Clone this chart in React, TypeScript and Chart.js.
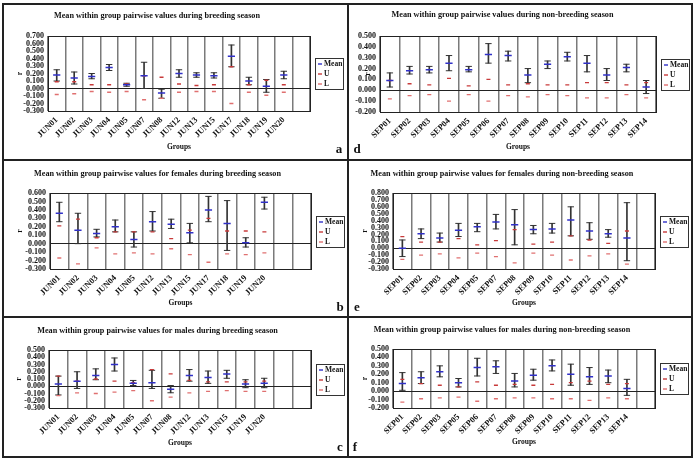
import React, { useEffect, useRef } from 'react';
import { Chart, registerables } from 'chart.js';
Chart.register(...registerables);

// ---------- Panel a: breeding season ----------
const aLabels = ['JUN01', 'JUN02', 'JUN03', 'JUN04', 'JUN05', 'JUN07', 'JUN08', 'JUN12', 'JUN13', 'JUN15', 'JUN17', 'JUN18', 'JUN19', 'JUN20', ''];
const aMean = [0.18, 0.14, 0.16, 0.28, 0.05, 0.17, -0.06, 0.20, 0.18, 0.17, 0.43, 0.10, 0.03, 0.18, null];
const aHigh = [0.25, 0.22, 0.20, 0.32, 0.07, 0.35, -0.01, 0.25, 0.21, 0.21, 0.58, 0.15, 0.12, 0.23, null];
const aLow = [0.10, 0.06, 0.13, 0.24, 0.03, 0.00, -0.13, 0.15, 0.15, 0.14, 0.29, 0.05, -0.05, 0.13, null];
const aU = [0.09, 0.09, 0.05, 0.05, 0.06, 0.17, 0.15, 0.06, 0.04, 0.05, 0.29, 0.05, 0.11, 0.05, null];
const aL = [-0.08, -0.07, -0.04, -0.05, -0.04, -0.15, -0.13, -0.05, -0.04, -0.04, -0.20, -0.05, -0.09, -0.05, null];

// ---------- Panel d: non-breeding season ----------
const dLabels = ['SEP01', 'SEP02', 'SEP03', 'SEP04', 'SEP05', 'SEP06', 'SEP07', 'SEP08', 'SEP09', 'SEP10', 'SEP11', 'SEP12', 'SEP13', 'SEP14'];
const dMean = [0.09, 0.18, 0.19, 0.25, 0.19, 0.33, 0.32, 0.14, 0.24, 0.31, 0.25, 0.14, 0.21, 0.03];
const dHigh = [0.16, 0.22, 0.22, 0.32, 0.22, 0.43, 0.36, 0.20, 0.27, 0.35, 0.32, 0.20, 0.24, 0.09];
const dLow = [0.03, 0.15, 0.16, 0.18, 0.17, 0.25, 0.27, 0.07, 0.20, 0.27, 0.17, 0.09, 0.17, -0.03];
const dU = [0.09, 0.06, 0.05, 0.11, 0.04, 0.10, 0.05, 0.06, 0.05, 0.05, 0.07, 0.07, 0.05, 0.07];
const dL = [-0.08, -0.05, -0.04, -0.10, -0.04, -0.10, -0.05, -0.06, -0.04, -0.05, -0.07, -0.07, -0.04, -0.07];

// ---------- Panel b: females, breeding ----------
const bLabels = ['JUN01', 'JUN02', 'JUN03', 'JUN04', 'JUN05', 'JUN12', 'JUN13', 'JUN15', 'JUN17', 'JUN18', 'JUN19', 'JUN20', '', ''];
const bMean = [0.36, 0.16, 0.12, 0.20, 0.05, 0.26, 0.23, 0.13, 0.40, 0.24, 0.01, 0.49, null, null];
const bHigh = [0.49, 0.36, 0.17, 0.28, 0.14, 0.38, 0.29, 0.24, 0.56, 0.51, 0.07, 0.55, null, null];
const bLow = [0.26, 0.00, 0.08, 0.14, -0.04, 0.15, 0.18, 0.01, 0.26, -0.08, -0.04, 0.41, null, null];
const bU = [0.21, 0.29, 0.07, 0.14, 0.14, 0.14, 0.06, 0.16, 0.30, 0.15, 0.15, 0.14, null, null];
const bL = [-0.17, -0.24, -0.05, -0.12, -0.11, -0.12, -0.06, -0.13, -0.22, -0.12, -0.13, -0.11, null, null];

// ---------- Panel e: females, non-breeding ----------
const eLabels = ['SEP01', 'SEP02', 'SEP03', 'SEP04', 'SEP05', 'SEP07', 'SEP08', 'SEP09', 'SEP10', 'SEP11', 'SEP12', 'SEP13', 'SEP14', ''];
const eMean = [0.00, 0.21, 0.15, 0.26, 0.31, 0.38, 0.34, 0.27, 0.28, 0.41, 0.25, 0.21, 0.15, null];
const eHigh = [0.12, 0.28, 0.22, 0.36, 0.36, 0.49, 0.56, 0.33, 0.36, 0.60, 0.37, 0.27, 0.66, null];
const eLow = [-0.12, 0.14, 0.09, 0.17, 0.24, 0.28, 0.05, 0.21, 0.22, 0.18, 0.13, 0.16, -0.18, null];
const eU = [0.17, 0.09, 0.09, 0.14, 0.05, 0.11, 0.27, 0.06, 0.09, 0.18, 0.12, 0.07, 0.25, null];
const eL = [-0.16, -0.10, -0.08, -0.14, -0.07, -0.12, -0.21, -0.07, -0.10, -0.17, -0.11, -0.08, -0.23, null];

// ---------- Panel c: males, breeding ----------
const cLabels = ['JUN01', 'JUN02', 'JUN03', 'JUN04', 'JUN05', 'JUN07', 'JUN08', 'JUN12', 'JUN13', 'JUN15', 'JUN19', 'JUN20', '', ''];
const cMean = [0.03, 0.07, 0.15, 0.30, 0.04, 0.05, -0.04, 0.15, 0.12, 0.17, 0.03, 0.04, null, null];
const cHigh = [0.14, 0.20, 0.24, 0.39, 0.08, 0.22, 0.01, 0.23, 0.21, 0.22, 0.09, 0.11, null, null];
const cLow = [-0.12, -0.03, 0.09, 0.21, 0.01, -0.03, -0.09, 0.07, 0.04, 0.11, -0.02, -0.02, null, null];
const cU = [0.14, 0.07, 0.10, 0.07, 0.05, 0.23, 0.17, 0.08, 0.06, 0.06, 0.06, 0.07, null, null];
const cL = [-0.13, -0.09, -0.10, -0.08, -0.06, -0.20, -0.15, -0.09, -0.07, -0.06, -0.07, -0.07, null, null];

// ---------- Panel f: males, non-breeding ----------
const fLabels = ['SEP01', 'SEP02', 'SEP03', 'SEP05', 'SEP06', 'SEP07', 'SEP08', 'SEP09', 'SEP10', 'SEP11', 'SEP12', 'SEP13', 'SEP14', ''];
const fMean = [0.09, 0.16, 0.23, 0.10, 0.28, 0.29, 0.12, 0.19, 0.30, 0.20, 0.17, 0.18, 0.03, null];
const fHigh = [0.22, 0.23, 0.30, 0.15, 0.39, 0.36, 0.21, 0.26, 0.37, 0.32, 0.28, 0.25, 0.14, null];
const fLow = [0.01, 0.09, 0.17, 0.05, 0.18, 0.21, 0.05, 0.13, 0.24, 0.07, 0.08, 0.10, -0.05, null];
const fU = [0.14, 0.09, 0.07, 0.05, 0.11, 0.07, 0.08, 0.07, 0.08, 0.10, 0.12, 0.08, 0.09, null];
const fL = [-0.13, -0.09, -0.08, -0.07, -0.12, -0.09, -0.08, -0.08, -0.09, -0.09, -0.11, -0.08, -0.09, null];

const FONT = '"Liberation Serif", "Times New Roman", serif';
const MEAN_COLOR = '#3030c8';
const U_COLOR = '#c83a3a';
const L_COLOR = '#e07070';
const BAR_COLOR = '#333333';

type Geom = {
  x: number; y: number; w: number; h: number;
  plotL: number; plotR: number; plotT: number; plotB: number;
  titleY: number; groupsY: number; rX: number;
  letterX: number; letterY: number;
};

type PanelDef = {
  letter: string; title: string;
  labels: string[]; mean: (number | null)[]; hi: (number | null)[]; lo: (number | null)[];
  u: (number | null)[]; l: (number | null)[];
  yMin: number; yMax: number; geom: Geom;
};

const panels: PanelDef[] = [
  {
    letter: 'a', title: 'Mean within group pairwise values during breeding season',
    labels: aLabels, mean: aMean, hi: aHigh, lo: aLow, u: aU, l: aL, yMin: -0.3, yMax: 0.7,
    geom: { x: 4, y: 5, w: 343, h: 154, plotL: 48, plotR: 310, plotT: 36, plotB: 111, titleY: 16, groupsY: 147, rX: 20, letterX: 339, letterY: 150 },
  },
  {
    letter: 'd', title: 'Mean within group pairwise values during non-breeding season',
    labels: dLabels, mean: dMean, hi: dHigh, lo: dLow, u: dU, l: dL, yMin: -0.2, yMax: 0.5,
    geom: { x: 349, y: 5, w: 342, h: 154, plotL: 380, plotR: 656, plotT: 36, plotB: 112, titleY: 15, groupsY: 147, rX: 368, letterX: 357, letterY: 150 },
  },
  {
    letter: 'b', title: 'Mean within group pairwise values for females during breeding season',
    labels: bLabels, mean: bMean, hi: bHigh, lo: bLow, u: bU, l: bL, yMin: -0.3, yMax: 0.6,
    geom: { x: 4, y: 161, w: 343, h: 155, plotL: 50, plotR: 311, plotT: 193, plotB: 269, titleY: 174, groupsY: 303, rX: 20, letterX: 340, letterY: 308 },
  },
  {
    letter: 'e', title: 'Mean within group pairwise values for females during non-breeding season',
    labels: eLabels, mean: eMean, hi: eHigh, lo: eLow, u: eU, l: eL, yMin: -0.3, yMax: 0.8,
    geom: { x: 349, y: 161, w: 342, h: 155, plotL: 393, plotR: 655, plotT: 193, plotB: 269, titleY: 174, groupsY: 303, rX: 365, letterX: 357, letterY: 308 },
  },
  {
    letter: 'c', title: 'Mean within group pairwise values for males during breeding season',
    labels: cLabels, mean: cMean, hi: cHigh, lo: cLow, u: cU, l: cL, yMin: -0.3, yMax: 0.5,
    geom: { x: 4, y: 318, w: 343, h: 138, plotL: 49, plotR: 311, plotT: 350, plotB: 408, titleY: 331, groupsY: 443, rX: 19, letterX: 340, letterY: 448 },
  },
  {
    letter: 'f', title: 'Mean within group pairwise values for males during non-breeding season',
    labels: fLabels, mean: fMean, hi: fHigh, lo: fLow, u: fU, l: fL, yMin: -0.2, yMax: 0.5,
    geom: { x: 349, y: 318, w: 342, h: 138, plotL: 393, plotR: 655, plotT: 349, plotB: 408, titleY: 330, groupsY: 442, rX: 365, letterX: 355, letterY: 448 },
  },
];

const panelDecor = {
  id: 'panelDecor',
  afterDraw(chart: any, _args: any, opts: any) {
    const { ctx, chartArea: ca } = chart;
    ctx.save();
    // plot frame
    ctx.strokeStyle = '#222';
    ctx.lineWidth = 1;
    ctx.strokeRect(Math.round(ca.left) + 0.5, Math.round(ca.top) + 0.5, Math.round(ca.right - ca.left), Math.round(ca.bottom - ca.top));
    // legend box
    const lw = 28, lh = 31;
    const lx = Math.round(ca.right + 4.5);
    const ly = Math.round((ca.top + ca.bottom) / 2 - lh / 2);
    ctx.strokeStyle = '#333';
    ctx.strokeRect(lx + 0.5, ly + 0.5, lw, lh);
    const items = chart.data.datasets.filter((d: any) => d.inLegend);
    items.forEach((d: any, i: number) => {
      const yy = ly + 6 + i * 10;
      ctx.strokeStyle = d.pointBorderColor;
      ctx.lineWidth = 1.4;
      ctx.beginPath();
      ctx.moveTo(lx + 3, yy);
      ctx.lineTo(lx + 7, yy);
      ctx.stroke();
      ctx.fillStyle = '#111';
      ctx.font = `bold 7.5px ${FONT}`;
      ctx.textBaseline = 'middle';
      ctx.textAlign = 'left';
      ctx.fillText(d.label, lx + 9, yy + 0.5);
    });
    // panel letter
    ctx.fillStyle = '#111';
    ctx.font = `bold 13px ${FONT}`;
    ctx.textAlign = 'center';
    ctx.textBaseline = 'middle';
    ctx.fillText(opts.letter, opts.letterX, opts.letterY);
    ctx.restore();
  },
};

function Panel({ p }: { p: PanelDef }) {
  const ref = useRef<HTMLCanvasElement>(null);
  useEffect(() => {
    const g = p.geom;
    const titleSize = 8.2;
    const titleLH = titleSize * 1.2;
    const t1 = g.titleY - g.y - titleLH / 2;
    const t2 = g.plotT - g.y - t1 - titleLH;
    const axisTitleSize = 7.5;
    const axisLH = axisTitleSize * 1.2;
    const xAxisH = g.y + g.h - g.plotB;
    const yAxisW = g.plotL - g.x;
    const groupsPad = g.y + g.h - g.groupsY - axisLH / 2;
    const rPad = g.rX - g.x - axisLH / 2;

    const bars = p.lo.map((v, i) => (v == null || p.hi[i] == null ? null : [v, p.hi[i]]));
    const chart = new Chart(ref.current as HTMLCanvasElement, {
      type: 'bar',
      data: {
        labels: p.labels,
        datasets: [
          {
            type: 'line', label: 'Mean', data: p.mean, showLine: false, inLegend: true,
            pointStyle: 'line', pointRadius: 3.6, pointBorderWidth: 1.5,
            pointBorderColor: MEAN_COLOR, borderColor: MEAN_COLOR, backgroundColor: MEAN_COLOR, order: 0,
          } as any,
          {
            type: 'line', label: 'U', data: p.u, showLine: false, inLegend: true,
            pointStyle: 'line', pointRadius: 2, pointBorderWidth: 1.3,
            pointBorderColor: U_COLOR, borderColor: U_COLOR, backgroundColor: U_COLOR, order: 1,
          } as any,
          {
            type: 'line', label: 'L', data: p.l, showLine: false, inLegend: true,
            pointStyle: 'line', pointRadius: 2, pointBorderWidth: 1.3,
            pointBorderColor: L_COLOR, borderColor: L_COLOR, backgroundColor: L_COLOR, order: 2,
          } as any,
          {
            type: 'line', label: 'upper', data: p.hi, showLine: false,
            pointStyle: 'line', pointRadius: 3.2, pointBorderWidth: 1,
            pointBorderColor: BAR_COLOR, borderColor: BAR_COLOR, order: 3,
          } as any,
          {
            type: 'line', label: 'lower', data: p.lo, showLine: false,
            pointStyle: 'line', pointRadius: 3.2, pointBorderWidth: 1,
            pointBorderColor: BAR_COLOR, borderColor: BAR_COLOR, order: 4,
          } as any,
          {
            type: 'bar', label: 'range', data: bars as any, barThickness: 1,
            backgroundColor: BAR_COLOR, borderWidth: 0, order: 5,
          } as any,
        ],
      },
      options: {
        responsive: false,
        animation: false,
        devicePixelRatio: 1,
        events: [],
        layout: { padding: { left: 0, top: 0, bottom: 0, right: g.x + g.w - g.plotR } },
        plugins: {
          legend: { display: false },
          tooltip: { enabled: false },
          title: {
            display: true, text: p.title, color: '#111',
            font: { family: FONT, size: titleSize, weight: 'bold', lineHeight: 1.2 },
            padding: { top: t1, bottom: t2 },
          },
          panelDecor: { letter: p.letter, letterX: g.letterX - g.x, letterY: g.letterY - g.y },
        } as any,
        scales: {
          x: {
            type: 'category',
            offset: true,
            grid: { offset: true, color: '#7a7a7a', lineWidth: 1.5, drawTicks: false },
            border: { color: '#222', width: 1 },
            ticks: {
              autoSkip: false, maxRotation: 45, minRotation: 45, padding: 4, color: '#111',
              font: { family: FONT, size: 8.5, weight: 'bold' },
            },
            title: {
              display: true, text: 'Groups', color: '#111',
              font: { family: FONT, size: axisTitleSize, weight: 'bold', lineHeight: 1.2 },
              padding: { top: 0, bottom: groupsPad },
            },
            afterFit: (s: any) => { s.height = xAxisH; },
          },
          y: {
            type: 'linear',
            min: p.yMin, max: p.yMax,
            grid: {
              drawTicks: false,
              color: (ctx: any) => (ctx.tick && Math.abs(ctx.tick.value) < 1e-9 ? '#222' : 'rgba(0,0,0,0)'),
              lineWidth: 1,
            },
            border: { color: '#222', width: 1 },
            ticks: {
              autoSkip: false, padding: 4, color: '#111',
              font: { family: FONT, size: 8, weight: 'bold' },
              callback: (v: any) => Number(v).toFixed(3),
            },
            title: {
              display: true, text: 'r', color: '#111',
              font: { family: FONT, size: axisTitleSize, weight: 'bold', lineHeight: 1.2 },
              padding: { top: rPad, bottom: 0 },
            },
            afterBuildTicks: (s: any) => {
              const t = [];
              for (let k = Math.round(p.yMin * 10); k <= Math.round(p.yMax * 10); k++) t.push({ value: k / 10 });
              s.ticks = t;
            },
            afterFit: (s: any) => { s.width = yAxisW; },
          },
        },
      } as any,
      plugins: [panelDecor as any],
    });
    return () => chart.destroy();
  }, [p]);
  const g = p.geom;
  return (
    <canvas
      ref={ref}
      width={g.w}
      height={g.h}
      style={{ position: 'absolute', left: g.x, top: g.y, width: g.w, height: g.h }}
    />
  );
}

const line = (l: number, t: number, w: number, h: number) => (
  <div style={{ position: 'absolute', left: l, top: t, width: w, height: h, background: '#222' }} />
);

export default function App() {
  return (
    <div style={{ position: 'fixed', left: 0, top: 0, width: 697, height: 461, background: '#fff', overflow: 'hidden' }}>
      {panels.map((p) => (
        <Panel key={p.letter} p={p} />
      ))}
      {line(2, 3, 691, 2)}
      {line(2, 456, 691, 2)}
      {line(2, 3, 2, 455)}
      {line(691, 3, 2, 455)}
      {line(347, 3, 2, 455)}
      {line(2, 159, 691, 2)}
      {line(2, 316, 691, 2)}
    </div>
  );
}
